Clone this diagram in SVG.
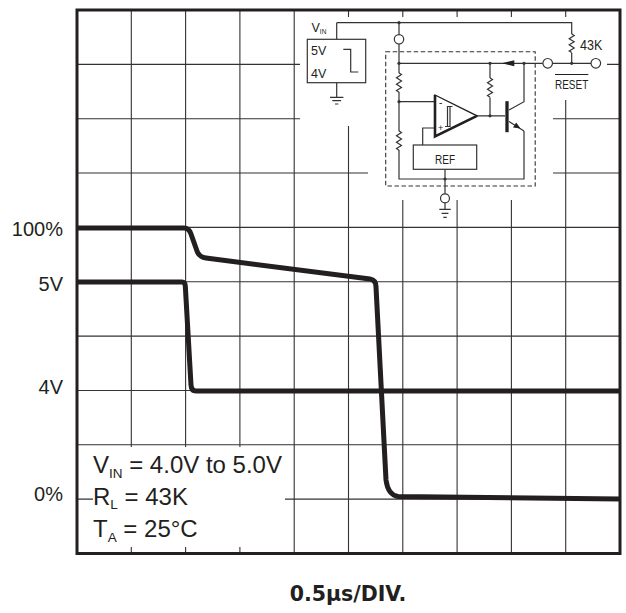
<svg xmlns="http://www.w3.org/2000/svg" width="626" height="613" viewBox="0 0 626 613">
<style>
.grid{stroke:#333;stroke-width:1.1;fill:none}
.trace{stroke:#231f20;stroke-width:5;fill:none;stroke-linejoin:round;stroke-linecap:butt}
.lbl{font-family:"Liberation Sans",Arial,sans-serif;fill:#231f20}
.w{stroke:#333;stroke-width:1.2;fill:none}
.dot{fill:#333}
.term{fill:#fff;stroke:#333;stroke-width:1.2}
</style>
<rect width="626" height="613" fill="#fff"/>
<g id="grid">
<path class="grid" d="M131.3,10V553.5M185.6,10V553.5M239.9,10V553.5M294.2,10V553.5M348.5,10V553.5M402.8,10V553.5M457.1,10V553.5M511.4,10V553.5M565.7,10V553.5M77,64.35H620M77,118.7H620M77,173.05H620M77,227.4H620M77,281.75H620M77,336.1H620M77,390.45H620M77,444.8H620M77,499.15H620"/>
<path fill="#fff" d="M300,17H607V100H553V200H368V126H300Z"/>
<rect x="93" y="447" width="192" height="100" fill="#fff"/>
<rect x="77" y="10" width="543" height="543.5" fill="none" stroke="#231f20" stroke-width="3"/>
</g>
<g id="traces">
<path class="trace" d="M77,228 L184,228 Q189,228 191,234 L197,251 Q199,257 206,258 L370,279 Q376,280 376,287 L386,480 Q388,495 398,496.5 L620,499"/>
<path class="trace" d="M77,282 L182,282 Q185,282 185.3,286 L191,385 Q191.4,391 196,391 L620,391"/>
</g>
<g id="axis-labels" class="lbl" font-size="20" text-anchor="end">
<text x="63" y="236">100%</text>
<text x="63" y="291">5V</text>
<text x="63" y="394">4V</text>
<text x="63" y="501">0%</text>
</g>
<g id="conditions" class="lbl" font-size="24">
<text x="93" y="473">V<tspan font-size="13.5" dy="5">IN</tspan><tspan dy="-5"> = 4.0V to 5.0V</tspan></text>
<text x="93" y="505">R<tspan font-size="13.5" dy="4">L</tspan><tspan dy="-4"> = 43K</tspan></text>
<text x="93" y="537">T<tspan font-size="13.5" dy="5">A</tspan><tspan dy="-5"> = 25°C</tspan></text>
</g>
<text id="xaxis" x="348" y="601" text-anchor="middle" font-family="'DejaVu Sans',sans-serif" font-weight="bold" font-size="20.5" fill="#231f20">0.5μs/DIV.</text>
<g id="circuit">
<g id="vin-source">
<text class="lbl" x="311.5" y="31.7" font-size="12.5">V<tspan font-size="6.5" dy="2.6">IN</tspan></text>
<rect x="307.3" y="39.3" width="58.4" height="43.4" class="w"/>
<text class="lbl" x="311" y="55" font-size="12.5">5V</text>
<text class="lbl" x="311" y="78" font-size="12.5">4V</text>
<path class="w" d="M343.3,49.3H350.7V72H358.3"/>
<path class="w" d="M336.7,39.3V22.7M336.7,82.7V97.3M330,97.3H343.4M332.3,100.7H341.1M335,104H338.4"/>
</g>
<g id="connectors">
<path class="w" d="M336.7,22.7H571.7V34M571.7,52.7V63.3"/>
<path class="w" d="M399,22.7V34.5M399,44V73M399,92V131M399,150V179H524V131"/>
<path class="w" d="M399,101.7H435M399,63.3H542.7M552.7,63.3H591"/>
<path class="w" d="M490,63.3V78M490,97.5V115.8M476.7,115.8H505"/>
<path class="w" d="M524,63.3V101.7L509,110M509,121.5L524,131"/>
<path class="w" d="M435,128H422.7V145"/>
<path class="w" d="M445,169.3V193.8M445,202.8V209.3M439.3,209.3H450.7M441.6,213.3H448.4M443.3,217.3H446.7"/>
<path class="w" d="M571.7,34l2.5,1.55l-5,3.1l5,3.1l-5,3.1l5,3.1l-5,3.1l2.5,1.55"/>
<path class="w" d="M399,73l2.5,1.6l-5,3.2l5,3.2l-5,3.2l5,3.2l-5,3.2l2.5,1.6"/>
<path class="w" d="M399,131l2.5,1.6l-5,3.2l5,3.2l-5,3.2l5,3.2l-5,3.2l2.5,1.6"/>
<path class="w" d="M490,78l2.5,1.6l-5,3.2l5,3.2l-5,3.2l5,3.2l-5,3.2l2.5,1.6"/>
<polygon points="501.7,63.3 514.3,60.3 514.3,66.3" fill="#231f20"/>
<polygon points="520.5,128.5 513,127.6 516.2,122.6" fill="#231f20"/>
<circle class="dot" cx="399" cy="22.7" r="1.6"/>
<circle class="dot" cx="399" cy="63.3" r="1.6"/>
<circle class="dot" cx="399" cy="101.7" r="1.6"/>
<circle class="dot" cx="490" cy="63.3" r="1.6"/>
<circle class="dot" cx="524" cy="63.3" r="1.6"/>
<circle class="dot" cx="490" cy="115.8" r="1.6"/>
<circle class="dot" cx="571.7" cy="63.3" r="1.6"/>
<circle class="dot" cx="445" cy="179" r="1.6"/>
<circle class="term" cx="399" cy="39.3" r="4.7"/>
<circle class="term" cx="547.7" cy="63.3" r="4.8"/>
<circle class="term" cx="595.8" cy="63.3" r="4.8"/>
<circle class="term" cx="445" cy="198.3" r="4.5"/>
</g>
<rect id="ic-outline" x="385.7" y="51.7" width="149.5" height="134.3" fill="none" stroke="#333" stroke-width="1.1" stroke-dasharray="4.5,2.5"/>
<g id="comparator">
<polygon points="435,95 477,115.8 435,136.5" fill="none" stroke="#231f20" stroke-width="1.3" stroke-linejoin="miter"/>
<path d="M435,95V136.5L477,115.8" fill="none" stroke="#231f20" stroke-width="2.6"/>
<path class="w" d="M445,126.5H450V106.5M447.5,126.5V106.5H452.5"/>
<text class="lbl" x="440.7" y="106" font-size="10" text-anchor="middle">-</text>
<text class="lbl" x="440.7" y="131" font-size="9" text-anchor="middle">+</text>
</g>
<g id="transistor">
<path d="M507,101.2V132.2" stroke="#231f20" stroke-width="3.3"/>
</g>
<g id="ref">
<rect x="413.3" y="145" width="63.4" height="24.3" class="w"/>
<text class="lbl" x="445" y="164" font-size="12.5" text-anchor="middle" textLength="20" lengthAdjust="spacingAndGlyphs">REF</text>
</g>
<text class="lbl" x="580" y="50" font-size="14" textLength="22.3" lengthAdjust="spacingAndGlyphs">43K</text>
<g id="reset-label">
<text class="lbl" x="555" y="89" font-size="13.5" textLength="33.3" lengthAdjust="spacingAndGlyphs">RESET</text>
<path d="M555,74.5H588.3" stroke="#231f20" stroke-width="1.1"/>
</g>
</g>
</svg>
